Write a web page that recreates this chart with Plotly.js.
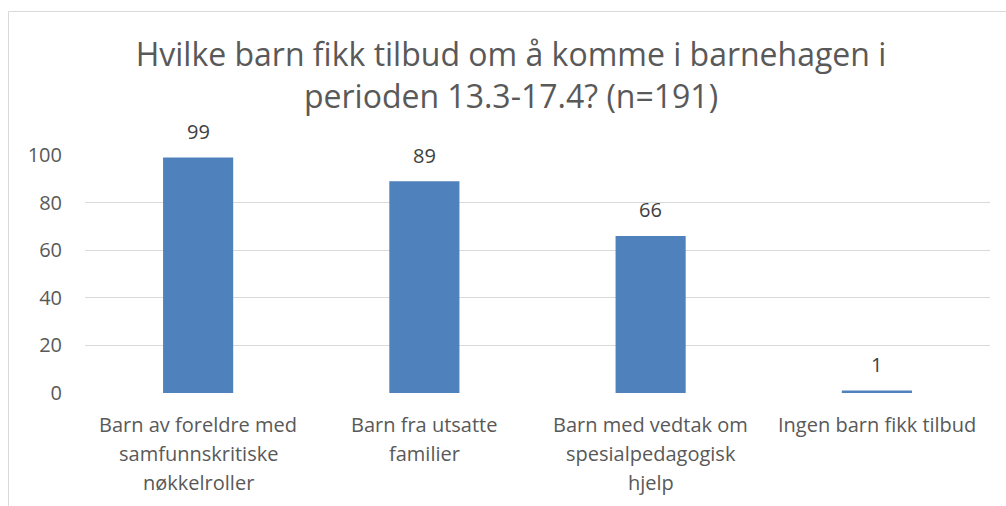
<!DOCTYPE html>
<html>
<head>
<meta charset="utf-8">
<script src="https://cdn.plot.ly/plotly-3.0.1.min.js"></script>
<style>html,body{margin:0;padding:0;background:#fff;}#chart{width:1006px;height:506px;}</style>
</head>
<body>
<div id="chart"></div>
<script>
const categories = [
  "Barn av foreldre med<br>samfunnskritiske<br>nøkkelroller",
  "Barn fra utsatte<br>familier",
  "Barn med vedtak om<br>spesialpedagogisk<br>hjelp",
  "Ingen barn fikk tilbud"
];
const values = [99, 89, 66, 1];
const yTicks = [0, 20, 40, 60, 80, 100];
const titleText = "Hvilke barn fikk tilbud om å komme i barnehagen i<br>perioden 13.3-17.4? (n=191)";

const FONT = "Open Sans, Noto Sans, sans-serif";
const W = 1006, H = 506;
const mL = 85, mR = 16, mT = 155, mB = 113;

const annotations = [];
// data labels
values.forEach((v, i) => {
  annotations.push({
    x: i, y: v, xref: 'x', yref: 'y', text: String(v), showarrow: false,
    yanchor: 'middle', yshift: 26,
    font: {family: FONT, size: 20, color: '#404040'}
  });
});
// category labels, one annotation per line
categories.forEach((c, i) => {
  c.split('<br>').forEach((line, j) => {
    annotations.push({
      x: i, y: 0, xref: 'x', yref: 'y', text: line, showarrow: false,
      yanchor: 'middle', yshift: -(31 + 29 * j),
      font: {family: FONT, size: 20, color: '#595959'}
    });
  });
});

const plotW = W - mL - mR, plotH = H - mT - mB;
const px = v => (v - mL) / plotW;
const py = v => (H - mB - v) / plotH;
const shapes = [
  {type: 'line', xref: 'paper', yref: 'paper', layer: 'above',
   x0: px(8.5), x1: px(1100), y0: py(11.5), y1: py(11.5),
   line: {color: '#d9d9d9', width: 1}},
  {type: 'line', xref: 'paper', yref: 'paper', layer: 'above',
   x0: px(8.5), x1: px(8.5), y0: py(11.5), y1: py(600),
   line: {color: '#d9d9d9', width: 1}}
];

Plotly.newPlot('chart', [{
  type: 'bar',
  x: categories.map((c, i) => i),
  y: values,
  width: 0.31,
  marker: {color: '#4f81bd', line: {width: 0}},
  hoverinfo: 'none'
}], {
  width: W, height: H,
  margin: {l: mL, r: mR, t: mT, b: mB, pad: 0},
  paper_bgcolor: '#fff', plot_bgcolor: '#fff',
  showlegend: false,
  title: {
    text: titleText, x: 511 / W, xanchor: 'center', xref: 'container',
    y: 1 - 66 / H, yanchor: 'middle', yref: 'container',
    font: {family: FONT, size: 32, color: '#595959'}
  },
  xaxis: {
    range: [-0.5, 3.5], showticklabels: false, showgrid: false,
    zeroline: false, showline: false, ticks: '', fixedrange: true
  },
  yaxis: {
    range: [0, 100], tickvals: yTicks, ticktext: yTicks.map(String),
    showgrid: true, gridcolor: '#d9d9d9', gridwidth: 1,
    zeroline: false, showline: false, ticks: '',
    ticklabelstandoff: 22,
    tickfont: {family: FONT, size: 20, color: '#595959'},
    fixedrange: true
  },
  annotations: annotations,
  shapes: shapes
}, {displayModeBar: false, staticPlot: true});
</script>
</body>
</html>
